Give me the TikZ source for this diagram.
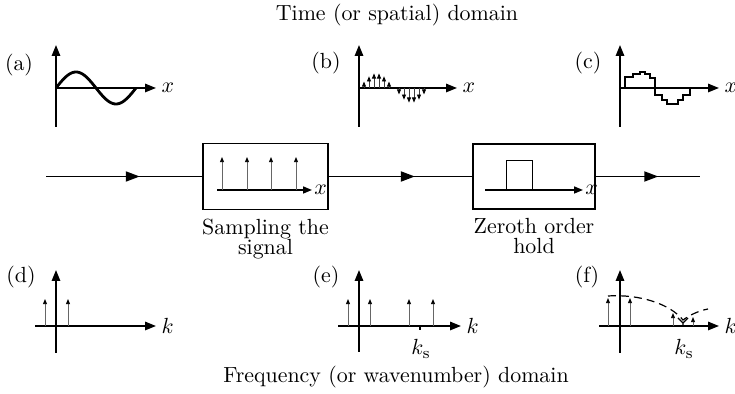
\documentclass[tikz,border=0pt]{standalone}
\usepackage{tikz}
\usetikzlibrary{arrows.meta,positioning,decorations.markings}

\tikzset{
  axis/.style={line width=0.9pt,-{Triangle[length=5.5pt,width=4.2pt]}},
  smallaxis/.style={line width=0.8pt,-{Triangle[length=4.5pt,width=3.5pt]}},
  imp/.style={line width=0.45pt,draw=black!60,-{Triangle[length=2.6pt,width=2pt,color=black]}},
  box/.style={draw,line width=0.7pt,inner sep=0pt},
  midarrow/.style={line width=0.9pt,postaction={decorate},
    decoration={markings,mark=at position 0.6 with {\arrow{Triangle[length=7pt,width=5pt]}}}}
}

\begin{document}
\begin{tikzpicture}[x=0.5pt,y=-0.5pt,font=\fontsize{10.95}{10}\selectfont]
  \useasboundingbox (0,0) rectangle (735,394);

  \node (ttop) at (397,15) {Time (or spatial) domain};
  \node (tbot) at (396,377) {Frequency (or wavenumber) domain};

  % (a) the signal
  \begin{scope}[shift={(56,88)}]
    \node (la) at (-37,-23) {(a)};
    \draw[axis] (0,39) -- (0,-43);
    \draw[axis] (0,0) -- (100,0) node[right=-1pt] (xa) {$x$};
    \draw[line width=1.4pt] plot[domain=0:80,samples=60] (\x,{-16*sin(4.5*\x)});
  \end{scope}

  % (b) the samples
  \begin{scope}[shift={(359,88)}]
    \node (lb) at (-33,-25) {(b)};
    \draw[axis] (0,39) -- (0,-43);
    \draw[axis] (0,0) -- (98,0) node[right=-1pt] (xb) {$x$};
    \foreach \i in {1,2,3,4,5,6,8,9,10,11,12,13}
      \draw[imp,draw=black!75] (5*\i,0) -- (5*\i,{-15*sin(\i*360/14)});
  \end{scope}

  % (c) held samples
  \begin{scope}[shift={(620,88)}]
    \node (lc) at (-32,-25) {(c)};
    \draw[axis] (0,39) -- (0,-43);
    \draw[axis] (0,0) -- (99,0) node[right=-1pt] (xc) {$x$};
    \draw[line width=0.8pt] (0,0) -- (5,0) -- (5,-11) -- (13,-11) -- (13,-14) -- (20,-14)
      -- (20,-16) -- (25,-16) -- (25,-14) -- (30,-14) -- (30,-10) -- (35,-10) -- (35,7)
      -- (42,7) -- (42,12) -- (47,12) -- (47,16) -- (58,16) -- (58,12) -- (63,12)
      -- (63,7) -- (70,7) -- (70,0);
  \end{scope}

  % signal path
  \coordinate (in) at (46,176.5);
  \node[box,minimum width=62.5pt,minimum height=33pt] (samp) at (265.5,176.5) {};
  \node[box,minimum width=61pt,minimum height=32.5pt] (hold) at (534,176.5) {};
  \coordinate (out) at (700,176.5);
  \draw[midarrow] (in) -- (samp);
  \draw[midarrow] (samp) -- (hold);
  \draw[midarrow] (hold) -- (out);

  \begin{scope}[shift={(samp.center)}]
    \draw[smallaxis] (-48.5,13.5) -- (46.5,13.5) node[right=-2.5pt] (xs) {$x$};
    \foreach \p in {-43.5,-18.5,5.5,30.5}
      \draw[imp] (\p,13.5) -- (\p,-19.5);
  \end{scope}
  \begin{scope}[shift={(hold.center)}]
    \draw[smallaxis] (-49,13.5) -- (49,13.5) node[right=-2.5pt] (xh) {$x$};
    \draw[line width=0.5pt] (-28,13.5) -- (-28,-15.5) -- (-2,-15.5) -- (-2,13.5);
  \end{scope}

  \node[below=1pt of samp,align=center] (samptxt) {Sampling the\\signal};
  \node[below=1pt of hold,align=center] (holdtxt) {Zeroth order\\hold};

  % (d) spectrum of the signal
  \begin{scope}[shift={(56,326)}]
    \node (ld) at (-35,-49) {(d)};
    \draw[axis] (0,27) -- (0,-56);
    \draw[axis] (-21,0) -- (100,0) node[right=-1pt] (kd) {$k$};
    \foreach \p in {-11,12}
      \draw[imp] (\p,0) -- (\p,-27);
  \end{scope}

  % (e) spectrum of the samples
  \begin{scope}[shift={(359,326)}]
    \node (le) at (-33,-49) {(e)};
    \draw[axis] (0,26) -- (0,-56);
    \draw[axis] (-21,0) -- (102,0) node[right=-1pt] (ke) {$k$};
    \foreach \p in {-11,11,50,74}
      \draw[imp] (\p,0) -- (\p,-27);
    \draw[line width=0.6pt] (61,0) -- (61,4);
    \node (kse) at (62,23) {$k_{\mathrm{s}}$};
  \end{scope}

  % (f) spectrum after the hold
  \begin{scope}[shift={(620,326)}]
    \node (lf) at (-33,-49) {(f)};
    \draw[axis] (0,27) -- (0,-56);
    \draw[axis] (-21,0) -- (99,0) node[right=-1pt] (kf) {$k$};
    \foreach \p/\h in {-12/-28,10/-28,53/-13,73/-9}
      \draw[imp] (\p,0) -- (\p,\h);
    \draw[line width=0.7pt] (58,-8) -- (63,-3) -- (68,-8) (63,-3) -- (63,0);
    \draw[line width=0.6pt,dash pattern=on 4pt off 2.5pt]
      (-12,-30) .. controls (20,-32) and (50,-22) .. (63,-6)
      .. controls (70,-11) and (78,-15) .. (88,-17);
    \node (ksf) at (64,23) {$k_{\mathrm{s}}$};
  \end{scope}
\end{tikzpicture}
\end{document}
